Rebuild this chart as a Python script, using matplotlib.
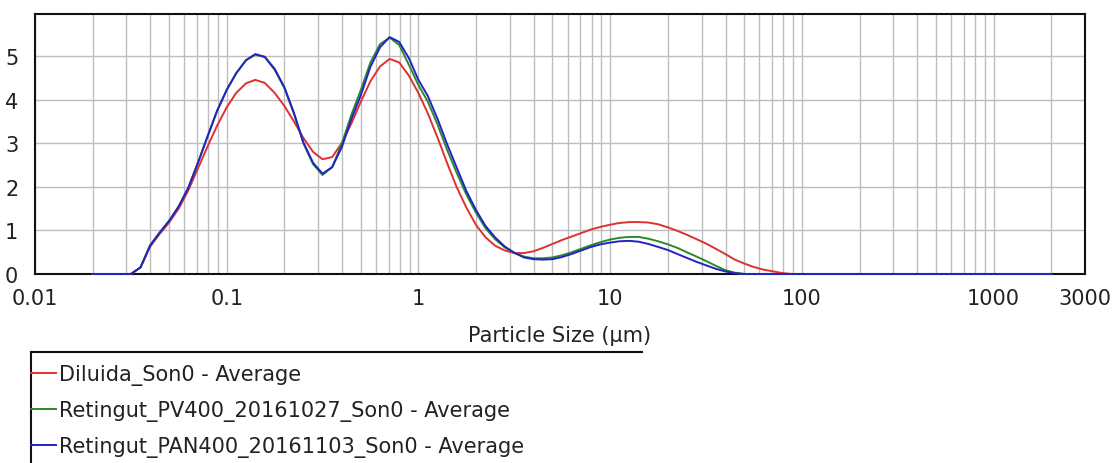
import matplotlib
matplotlib.use("Agg")
import matplotlib.pyplot as plt
from matplotlib.lines import Line2D
from matplotlib.ticker import FixedLocator, NullFormatter

# Size classes (µm) and volume density (%) for each sample
sizes = [0.02, 0.0316, 0.0355, 0.0398, 0.0447, 0.0501, 0.0562, 0.0631, 0.0708, 0.0794,
         0.0891, 0.1, 0.112, 0.126, 0.141, 0.158, 0.178, 0.2, 0.224, 0.251,
         0.282, 0.316, 0.355, 0.398, 0.447, 0.501, 0.562, 0.631, 0.708, 0.794,
         0.891, 1.0, 1.12, 1.26, 1.41, 1.58, 1.78, 2.0, 2.24, 2.51,
         2.82, 3.16, 3.55, 3.98, 4.47, 5.01, 5.62, 6.31, 7.08, 7.94,
         8.91, 10.0, 11.2, 12.6, 14.1, 15.8, 17.8, 20.0, 22.4, 25.1,
         28.2, 31.6, 35.5, 39.8, 44.7, 50.1, 56.2, 63.1, 70.8, 79.4,
         89.1, 100.0, 2000.0]

diluida = [0, 0, 0.15, 0.62, 0.92, 1.18, 1.50, 1.92, 2.42, 2.92,
           3.40, 3.82, 4.15, 4.37, 4.45, 4.38, 4.15, 3.85, 3.50, 3.12,
           2.80, 2.63, 2.68, 3.00, 3.45, 3.95, 4.42, 4.76, 4.93, 4.85,
           4.55, 4.15, 3.68, 3.12, 2.55, 2.00, 1.52, 1.12, 0.84, 0.65,
           0.54, 0.48, 0.48, 0.52, 0.60, 0.69, 0.78, 0.86, 0.94, 1.02,
           1.08, 1.13, 1.17, 1.19, 1.19, 1.18, 1.14, 1.07, 0.99, 0.90,
           0.80, 0.70, 0.58, 0.46, 0.33, 0.24, 0.16, 0.10, 0.06, 0.02,
           0, 0, 0]

pv400 = [0, 0, 0.15, 0.65, 0.95, 1.22, 1.55, 1.98, 2.55, 3.15,
         3.74, 4.22, 4.60, 4.90, 5.03, 4.97, 4.68, 4.26, 3.68, 3.00,
         2.52, 2.27, 2.45, 2.98, 3.65, 4.22, 4.85, 5.27, 5.42, 5.25,
         4.80, 4.33, 3.95, 3.42, 2.85, 2.33, 1.82, 1.40, 1.05, 0.80,
         0.61, 0.48, 0.40, 0.36, 0.36, 0.38, 0.43, 0.50, 0.58, 0.66,
         0.73, 0.79, 0.83, 0.85, 0.85, 0.81, 0.75, 0.68, 0.60, 0.50,
         0.40, 0.30, 0.19, 0.09, 0.03, 0, 0, 0, 0, 0,
         0, 0, 0]

pan400 = [0, 0, 0.15, 0.65, 0.95, 1.22, 1.55, 1.98, 2.55, 3.15,
          3.74, 4.22, 4.60, 4.90, 5.04, 4.98, 4.70, 4.28, 3.70, 3.02,
          2.55, 2.30, 2.45, 2.90, 3.55, 4.10, 4.75, 5.20, 5.43, 5.32,
          4.95, 4.45, 4.08, 3.55, 2.98, 2.45, 1.90, 1.46, 1.10, 0.84,
          0.63, 0.49, 0.38, 0.34, 0.33, 0.34, 0.39, 0.46, 0.54, 0.62,
          0.68, 0.72, 0.75, 0.76, 0.74, 0.69, 0.62, 0.55, 0.46, 0.37,
          0.28, 0.20, 0.12, 0.06, 0.02, 0, 0, 0, 0, 0,
          0, 0, 0]

labels = ["Diluida_Son0 - Average",
          "Retingut_PV400_20161027_Son0 - Average",
          "Retingut_PAN400_20161103_Son0 - Average"]
colors = ["#e03030", "#2a8a2a", "#2222c8"]

x_major = [0.01, 0.1, 1, 10, 100, 1000, 3000]
x_major_labels = ["0.01", "0.1", "1", "10", "100", "1000", "3000"]
y_ticks = [0, 1, 2, 3, 4, 5]

plt.rcParams["font.family"] = ["DejaVu Sans"]
plt.rcParams["font.size"] = 15

W, H = 1120, 464
fig = plt.figure(figsize=(W / 100, H / 100), dpi=100)
ax = fig.add_axes([35 / W, 1 - 275 / H, 1050 / W, 260 / H])

ax.set_xscale("log")
ax.set_xlim(0.01, 3000)
ax.set_ylim(0, 5.96)

minor = [m * 10.0 ** e for e in range(-2, 3) for m in range(2, 10)] + [2000]
ax.xaxis.set_major_locator(FixedLocator(x_major))
ax.xaxis.set_minor_locator(FixedLocator(minor))
ax.xaxis.set_minor_formatter(NullFormatter())
ax.set_xticklabels(x_major_labels)
ax.set_yticks(y_ticks)

ax.grid(True, which="both", axis="x", color="#bdbdbd", lw=1.0)
ax.grid(True, which="major", axis="y", color="#bdbdbd", lw=1.0)
ax.set_axisbelow(True)
ax.tick_params(which="both", length=0, colors="#222222")
ax.tick_params(axis="x", pad=10)
ax.tick_params(axis="y", pad=12)
for s in ax.spines.values():
    s.set_color("#111111")
    s.set_linewidth(1.5)

handles = []
for ys, lab, c in zip([diluida, pv400, pan400], labels, colors):
    ln, = ax.plot(sizes, ys, color=c, lw=1.4, label=lab, zorder=3, clip_on=False)
    handles.append(ln)

ax.set_xlabel("Particle Size (µm)", color="#222222", va="center")
ax.xaxis.set_label_coords(0.5, (275 - 336) / 260)

# Legend block below the axes, open on the right and bottom
leg = fig.legend(handles=handles, labels=labels, loc="upper left",
                 bbox_to_anchor=(31 / W, 1 - 365 / H), frameon=False,
                 borderpad=0, borderaxespad=0, handlelength=1.2,
                 handletextpad=0.15, labelspacing=0.73)
for t in leg.get_texts():
    t.set_color("#222222")
fig.add_artist(Line2D([31 / W, 642 / W], [1 - 353 / H, 1 - 353 / H],
                      transform=fig.transFigure, color="#111111", lw=1.5))
fig.add_artist(Line2D([31 / W, 31 / W], [1 - 353 / H, 0],
                      transform=fig.transFigure, color="#111111", lw=1.5))

fig.savefig("out.png", dpi=100)
